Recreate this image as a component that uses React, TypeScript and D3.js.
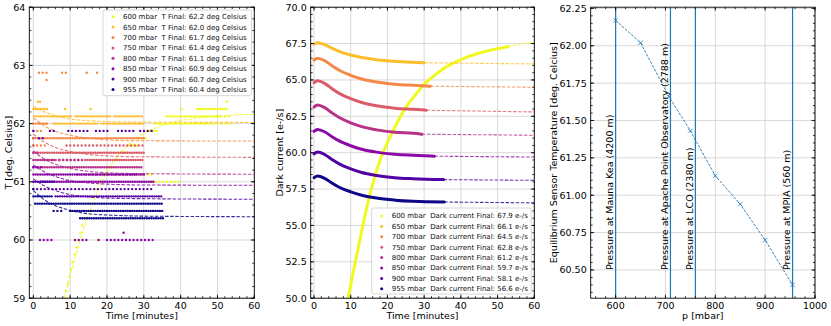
import React from "react";
import * as d3 from "d3";

// ---------------- data ----------------
const pressures = [600, 650, 700, 750, 800, 850, 900, 955];
const tFinal = [62.2, 62.0, 61.7, 61.4, 61.1, 60.9, 60.7, 60.4];
const dcFinal = [67.9, 66.1, 64.5, 62.8, 61.2, 59.7, 58.1, 56.6];

// Left panel: quantized temperature readings, [level, tStart, tEnd]
const dense600 = [[59.0, 8.6, 8.9], [59.125, 9.0, 9.3], [59.25, 9.4, 9.7], [59.375, 9.8, 10.1], [59.5, 10.2, 10.5], [59.625, 10.6, 11.0], [59.75, 11.2, 11.5], [59.875, 11.7, 12.0], [60.0, 12.2, 12.5], [60.125, 12.8, 13.1], [60.25, 13.3, 13.6], [60.375, 13.9, 14.3], [60.5, 14.6, 15.0], [60.625, 15.3, 15.7], [60.75, 16.0, 16.6], [60.875, 16.9, 17.6], [61.0, 18.0, 18.8], [61.125, 19.2, 20.2], [61.25, 20.6, 21.8], [61.375, 22.2, 23.6], [61.5, 24.0, 25.8], [61.625, 26.2, 28.2], [61.75, 28.6, 31.0], [61.875, 31.0, 34.0], [62.0, 33.0, 48.0], [62.125, 36.0, 51.0], [62.25, 44.4, 53.0]];
const sparse600 = [[62.0, 48, 54], [62.125, 51, 54], [62.25, 40.3, 40.3], [62.375, 52.6, 52.6], [61.125, 31, 32.4], [61.0, 32.2, 40], [60.0, 17.6, 17.6]];
const dense650 = [[62.375, 1.2, 2.3], [62.25, 0, 4], [62.125, 0.2, 10.5], [62.125, 11.5, 21], [62.125, 22, 30], [62.0, 5.5, 17.5], [62.0, 18.5, 30]];
const sparse650 = [[62.25, 8.6, 8.6], [62.25, 15.5, 15.5], [62.0, 1.5, 4.5]];
const dense700 = [[61.75, 0, 30], [62.0, 0, 4]];
const sparse700 = [[62.875, 1.5, 4.5], [62.875, 7.8, 9], [62.875, 14.5, 14.5], [62.875, 17.3, 17.3], [62.75, 3.6, 3.6], [61.875, 0, 3], [61.625, 0, 4]];
const dense750 = [[61.5, 0, 30], [61.375, 14, 30]];
const sparse750 = [[61.75, 0, 1], [61.625, 0, 1], [61.625, 9, 30], [61.375, 3, 13]];
const dense800 = [[61.375, 0, 6], [61.25, 0, 29.5]];
const sparse800 = [[61.5, 0, 2], [61.375, 7, 14], [61.125, 12, 30]];
const dense850 = [[61.125, 0, 27.5], [61.0, 2, 33]];
const sparse850 = [[61.25, 0, 2.5], [61.125, 28, 31], [60.125, 24.5, 25.5], [60.0, 1.8, 5.4], [60.0, 11.3, 14.5], [60.0, 17.7, 17.7], [60.0, 20, 32.6]];
const dense900 = [[61.0, 0, 6], [60.75, 6, 35.3]];
const sparse900 = [[61.875, 0, 1], [61.875, 4.5, 6], [61.875, 9.5, 15], [61.875, 17, 21], [61.875, 23, 27.5], [61.875, 29, 32.3], [61.75, 1.5, 3], [60.875, 0, 33]];
const dense955 = [[60.75, 0, 5.5], [60.625, 0.5, 35.3], [60.5, 10, 35.3], [60.375, 12.7, 35.4]];
const sparse955 = [[60.875, 0, 0.8], [60.5, 5.5, 7.7]];

// Left panel: temperature fits [t, T]
const tfit600 = [[8.4, 59.0], [10, 59.4], [12, 59.85], [14, 60.25], [16, 60.6], [18, 60.92], [20, 61.18], [23, 61.45], [26, 61.65], [30, 61.83], [35, 61.97], [40, 62.05], [45, 62.1], [50, 62.13], [60, 62.16]];
const tfit650 = [[0, 62.3], [3, 62.2], [6, 62.14], [10, 62.08], [15, 62.05], [20, 62.035], [30, 62.025], [60, 62.02]];
const tfit700 = [[0, 62.1], [3, 61.96], [6, 61.87], [10, 61.8], [15, 61.75], [20, 61.72], [30, 61.705], [60, 61.7]];
const tfit750 = [[0, 61.82], [3, 61.68], [6, 61.59], [10, 61.52], [15, 61.47], [20, 61.445], [30, 61.43], [60, 61.42]];
const tfit800 = [[0, 61.53], [3, 61.39], [6, 61.3], [10, 61.23], [15, 61.18], [20, 61.155], [30, 61.14], [60, 61.13]];
const tfit850 = [[0, 61.29], [3, 61.17], [6, 61.09], [10, 61.02], [15, 60.98], [20, 60.96], [30, 60.945], [60, 60.94]];
const tfit900 = [[0, 61.05], [3, 60.93], [6, 60.85], [10, 60.78], [15, 60.74], [20, 60.72], [30, 60.71], [60, 60.7]];
const tfit955 = [[0, 60.85], [3, 60.69], [6, 60.59], [10, 60.51], [15, 60.45], [20, 60.43], [30, 60.41], [60, 60.4]];

// Middle panel: dark current measurements [t, e-/s]
const dc600 = [[9.2, 49.8], [10, 50.9], [12, 53.4], [15, 56.9], [18, 59.5], [20, 60.7], [22, 61.75], [25, 63.1], [28, 64.1], [30, 64.7], [33, 65.35], [36, 65.9], [40, 66.4], [45, 66.85], [50, 67.15], [53, 67.3]];
const dc650 = [[0, 67.45], [1, 67.55], [3, 67.41], [5, 67.17], [7, 66.95], [10, 66.71], [13, 66.54], [17, 66.39], [22, 66.28], [27, 66.22], [30, 66.18]];
const dc700 = [[0, 66.37], [1, 66.5], [3, 66.31], [5, 65.96], [7, 65.65], [10, 65.32], [13, 65.07], [17, 64.86], [22, 64.71], [27, 64.63], [31.7, 64.57]];
const dc750 = [[0, 64.81], [1, 64.95], [3, 64.75], [5, 64.38], [7, 64.06], [10, 63.71], [13, 63.45], [17, 63.22], [22, 63.06], [27, 62.98], [30.6, 62.92]];
const dc800 = [[0, 63.14], [1, 63.28], [3, 63.08], [5, 62.72], [7, 62.4], [10, 62.05], [13, 61.79], [17, 61.57], [22, 61.41], [27, 61.33], [29.4, 61.27]];
const dc850 = [[0, 61.47], [1, 61.6], [3, 61.42], [5, 61.08], [7, 60.79], [10, 60.48], [13, 60.24], [17, 60.04], [22, 59.89], [27, 59.82], [32.8, 59.76]];
const dc900 = [[0, 59.92], [1, 60.05], [3, 59.86], [5, 59.52], [7, 59.21], [10, 58.89], [13, 58.64], [17, 58.44], [22, 58.28], [27, 58.21], [35.3, 58.15]];
const dc955 = [[0, 58.28], [1, 58.4], [3, 58.22], [5, 57.9], [7, 57.61], [10, 57.31], [13, 57.08], [17, 56.88], [22, 56.74], [27, 56.66], [35.5, 56.61]];
// Middle panel: fits continuing to 60 min
const dcfit600 = [[9.2, 49.8], [10, 50.9], [12, 53.4], [15, 56.9], [18, 59.5], [20, 60.7], [22, 61.75], [25, 63.1], [28, 64.1], [30, 64.7], [33, 65.35], [36, 65.9], [40, 66.4], [45, 66.85], [50, 67.15], [53, 67.3], [56, 67.45], [60, 67.6]];
const dcfit650 = [[30, 66.18], [60, 66.1]];
const dcfit700 = [[31.7, 64.57], [60, 64.5]];
const dcfit750 = [[30.6, 62.92], [60, 62.8]];
const dcfit800 = [[29.4, 61.27], [60, 61.2]];
const dcfit850 = [[32.8, 59.76], [60, 59.7]];
const dcfit900 = [[35.3, 58.15], [60, 58.1]];
const dcfit955 = [[35.5, 56.61], [60, 56.55]];

// Right panel
const eqPressure = [600, 650, 707, 750, 800, 850, 900, 955];
const eqTemp = [62.17, 62.02, 61.66, 61.43, 61.13, 60.94, 60.7, 60.4];
const siteNames = ["Pressure at Mauna Kea (4200 m)", "Pressure at Apache Point Observatory (2788 m)", "Pressure at LCO (2380 m)", "Pressure at MPIA (560 m)"];
const sitePressure = [600, 710, 760, 955];

const denseRuns = [dense600, dense650, dense700, dense750, dense800, dense850, dense900, dense955];
const sparseRuns = [sparse600, sparse650, sparse700, sparse750, sparse800, sparse850, sparse900, sparse955];
const tempFits = [tfit600, tfit650, tfit700, tfit750, tfit800, tfit850, tfit900, tfit955];
const dcData = [dc600, dc650, dc700, dc750, dc800, dc850, dc900, dc955];
const dcFits = [dcfit600, dcfit650, dcfit700, dcfit750, dcfit800, dcfit850, dcfit900, dcfit955];

// ---------------- styling ----------------
const FONT = "DejaVu Sans, Verdana, sans-serif";
const FS = 9.5;
const LFS = 7;
const colors = pressures.map((_, i) => d3.interpolatePlasma(1 - i / 7));
const TOP = 7.2, BOT = 298.2;

type Box = { l: number; r: number; t: number; b: number };

function Frame(props: any) {
  const { box, xs, ys, xMajor, yMajor, xMinor, yMinor, xFmt, yFmt, xLabel, yLabel, yLabelX, id, children } = props;
  const { l, r, t, b } = box as Box;
  const inRange = (v: number, s: any) => { const d = s.domain(); return v >= Math.min(d[0], d[1]) - 1e-9 && v <= Math.max(d[0], d[1]) + 1e-9; };
  const xM = xMajor.filter((v: number) => inRange(v, xs));
  const yM = yMajor.filter((v: number) => inRange(v, ys));
  const xm = xMinor.filter((v: number) => inRange(v, xs));
  const ym = yMinor.filter((v: number) => inRange(v, ys));
  return (
    <g>
      <defs>
        <clipPath id={id}><rect x={l} y={t} width={r - l} height={b - t} /></clipPath>
      </defs>
      <rect x={l} y={t} width={r - l} height={b - t} fill="#fff" />
      {xM.map((v: number, i: number) => <line key={"gx" + i} x1={xs(v)} x2={xs(v)} y1={t} y2={b} stroke="#cfcfcf" strokeWidth={0.8} />)}
      {yM.map((v: number, i: number) => <line key={"gy" + i} x1={l} x2={r} y1={ys(v)} y2={ys(v)} stroke="#cfcfcf" strokeWidth={0.8} />)}
      <g clipPath={`url(#${id})`}>{children}</g>
      {[[xM, 3.5], [xm, 2]].map(([arr, len]: any, k) => arr.map((v: number, i: number) => (
        <g key={"xt" + k + "_" + i}>
          <line x1={xs(v)} x2={xs(v)} y1={b} y2={b - len} stroke="#000" strokeWidth={0.8} />
          <line x1={xs(v)} x2={xs(v)} y1={t} y2={t + len} stroke="#000" strokeWidth={0.8} />
        </g>
      )))}
      {[[yM, 3.5], [ym, 2]].map(([arr, len]: any, k) => arr.map((v: number, i: number) => (
        <g key={"yt" + k + "_" + i}>
          <line x1={l} x2={l + len} y1={ys(v)} y2={ys(v)} stroke="#000" strokeWidth={0.8} />
          <line x1={r} x2={r - len} y1={ys(v)} y2={ys(v)} stroke="#000" strokeWidth={0.8} />
        </g>
      )))}
      <rect x={l} y={t} width={r - l} height={b - t} fill="none" stroke="#000" strokeWidth={0.9} />
      {xM.map((v: number, i: number) => (
        <text key={"xl" + i} x={xs(v)} y={b + 10.6} textAnchor="middle" fontSize={FS} fontFamily={FONT}>{xFmt(v)}</text>
      ))}
      {yM.map((v: number, i: number) => (
        <text key={"yl" + i} x={l - 4} y={ys(v) + 3.4} textAnchor="end" fontSize={FS} fontFamily={FONT}>{yFmt(v)}</text>
      ))}
      <text x={(l + r) / 2} y={b + 21} textAnchor="middle" fontSize={FS} fontFamily={FONT}>{xLabel}</text>
      <text transform={`translate(${yLabelX},${(t + b) / 2}) rotate(-90)`} textAnchor="middle" fontSize={FS} fontFamily={FONT}>{yLabel}</text>
    </g>
  );
}

function Legend({ x, y, w, h, rowY, labels }: any) {
  return (
    <g>
      <rect x={x} y={y} width={w} height={h} rx={2} fill="#fff" fillOpacity={0.8} stroke="#cccccc" strokeWidth={0.8} />
      {labels.map((s: string, i: number) => (
        <g key={i}>
          <circle cx={x + 10} cy={rowY + i * 10.4} r={1.5} fill={colors[i]} />
          <text x={x + 20} y={rowY + i * 10.4 + 2.4} fontSize={LFS} fontFamily={FONT} style={{ whiteSpace: "pre" }} fill="#111">{s}</text>
        </g>
      ))}
    </g>
  );
}

export default function App() {
  // left
  const bL: Box = { l: 29.3, r: 254.3, t: TOP, b: BOT };
  const xL = d3.scaleLinear().domain([-1.1, 60]).range([bL.l, bL.r]);
  const yL = d3.scaleLinear().domain([59, 64]).range([bL.b, bL.t]);
  // middle
  const bM: Box = { l: 310.7, r: 534.3, t: TOP, b: BOT };
  const xM = d3.scaleLinear().domain([-0.9, 60]).range([bM.l, bM.r]);
  const yM = d3.scaleLinear().domain([50, 70]).range([bM.b, bM.t]);
  // right
  const bR: Box = { l: 590.7, r: 815, t: TOP, b: BOT };
  const xR = d3.scaleLinear().domain([550, 1000]).range([bR.l, bR.r]);
  const yR = d3.scaleLinear().domain([60.311, 62.258]).range([bR.b, bR.t]);

  const lineL = d3.line<number[]>().x(d => xL(d[0])).y(d => yL(d[1])).curve(d3.curveMonotoneX);
  const lineM = d3.line<number[]>().x(d => xM(d[0])).y(d => yM(d[1])).curve(d3.curveMonotoneX);
  const lineR = d3.line<number[]>().x(d => xR(d[0])).y(d => yR(d[1]));

  const tickRange = (a: number, b: number, s: number) => d3.range(Math.round((b - a) / s) + 1).map(i => +(a + i * s).toFixed(6));

  const legL = pressures.map((p, i) => `${p} mbar  T Final: ${tFinal[i].toFixed(1)} deg Celsius`);
  const legM = pressures.map((p, i) => `${p} mbar  Dark current Final: ${dcFinal[i].toFixed(1)} e-/s`);

  const blue = "#1f77b4";

  return (
    <div style={{ position: "absolute", left: 0, top: 0 }}>
      <svg width={831} height={326} style={{ display: "block", background: "#fff" }}>
        {/* LEFT */}
        <Frame id="cl" box={bL} xs={xL} ys={yL}
          xMajor={tickRange(0, 60, 10)} yMajor={tickRange(59, 64, 1)}
          xMinor={tickRange(-2, 60, 2)} yMinor={tickRange(59, 64, 0.2)}
          xFmt={(v: number) => String(v)} yFmt={(v: number) => String(v)}
          xLabel="Time [minutes]" yLabel="T [deg. Celsius]" yLabelX={12}>
          {pressures.map((p, i) => (
            <g key={"L" + p}>
              {denseRuns[i].map((r, k) => (
                r[2] - r[1] < 0.05
                  ? <circle key={"d" + k} cx={xL(r[1])} cy={yL(r[0])} r={1.2} fill={colors[i]} />
                  : <line key={"d" + k} x1={xL(r[1])} x2={xL(r[2])} y1={yL(r[0])} y2={yL(r[0])} stroke={colors[i]} strokeWidth={2.4} strokeLinecap="round" strokeDasharray="0 2.3" />
              ))}
              {sparseRuns[i].map((r, k) => (
                r[2] - r[1] < 0.05
                  ? <circle key={"s" + k} cx={xL(r[1])} cy={yL(r[0])} r={1.2} fill={colors[i]} />
                  : <line key={"s" + k} x1={xL(r[1])} x2={xL(r[2])} y1={yL(r[0])} y2={yL(r[0])} stroke={colors[i]} strokeWidth={2.4} strokeLinecap="round" strokeDasharray="0 3.8" />
              ))}
              <path d={lineL(tempFits[i] as any) || ""} fill="none" stroke={colors[i]} strokeWidth={1.1} strokeDasharray="3.5 1.6" opacity={0.85} />
            </g>
          ))}
        </Frame>
        <Legend x={103} y={10} w={148.5} h={85.7} rowY={16.7} labels={legL} />

        {/* MIDDLE */}
        <Frame id="cm" box={bM} xs={xM} ys={yM}
          xMajor={tickRange(0, 60, 10)} yMajor={tickRange(50, 70, 2.5)}
          xMinor={tickRange(-2, 60, 2)} yMinor={tickRange(50, 70, 0.5)}
          xFmt={(v: number) => String(v)} yFmt={(v: number) => v.toFixed(1)}
          xLabel="Time [minutes]" yLabel="Dark current [e-/s]" yLabelX={283}>
          {pressures.map((p, i) => (
            <g key={"M" + p}>
              <path d={lineM(dcData[i] as any) || ""} fill="none" stroke={colors[i]} strokeWidth={3} strokeLinecap="round" strokeLinejoin="round" />
              <path d={lineM(dcFits[i] as any) || ""} fill="none" stroke={colors[i]} strokeWidth={1.1} strokeDasharray="3.5 1.6" opacity={0.8} />
            </g>
          ))}
        </Frame>
        <Legend x={371.7} y={208} w={159.5} h={86} rowY={216} labels={legM} />

        {/* RIGHT */}
        <Frame id="cr" box={bR} xs={xR} ys={yR}
          xMajor={tickRange(600, 1000, 100)} yMajor={tickRange(60.5, 62.25, 0.25)}
          xMinor={tickRange(540, 1000, 20)} yMinor={tickRange(60.3, 62.25, 0.05)}
          xFmt={(v: number) => String(v)} yFmt={(v: number) => v.toFixed(2)}
          xLabel="p [mbar]" yLabel="Equilibrium Sensor Temperature [deg. Celcius]" yLabelX={557}>
          {sitePressure.map((p, i) => (
            <g key={"site" + i}>
              <line x1={xR(p)} x2={xR(p)} y1={bR.t} y2={bR.b} stroke={blue} strokeWidth={1.2} />
            </g>
          ))}
          <path d={lineR(eqPressure.map((p, i) => [p, eqTemp[i]])) || ""} fill="none" stroke={blue} strokeWidth={0.9} strokeDasharray="2.8 1.4" />
          {eqPressure.map((p, i) => {
            const cx = xR(p), cy = yR(eqTemp[i]);
            return (
              <g key={"mk" + i} stroke={blue} strokeWidth={0.8}>
                <line x1={cx - 2.2} x2={cx + 2.2} y1={cy - 2.2} y2={cy + 2.2} />
                <line x1={cx - 2.2} x2={cx + 2.2} y1={cy + 2.2} y2={cy - 2.2} />
              </g>
            );
          })}
        </Frame>
        {sitePressure.map((p, i) => (
          <text key={"st" + i} transform={`translate(${xR(p) - 2.5},${yR(60.5)}) rotate(-90)`} fontSize={FS} fontFamily={FONT} textAnchor="start">{siteNames[i]}</text>
        ))}
      </svg>
    </div>
  );
}
